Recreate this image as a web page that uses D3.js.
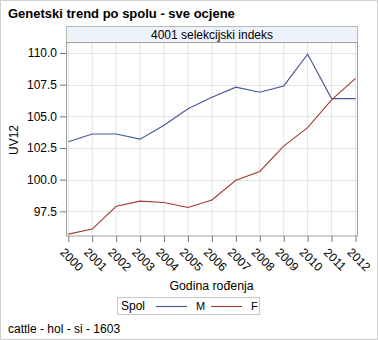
<!DOCTYPE html>
<html><head><meta charset="utf-8">
<script src="https://cdn.jsdelivr.net/npm/d3@7"></script>
<style>body{margin:0;background:#fff}svg{display:block;font-family:"Liberation Sans",Arial,sans-serif}</style>
</head><body>
<svg id="c" width="378" height="340"></svg>
<script>
const years = [2000,2001,2002,2003,2004,2005,2006,2007,2008,2009,2010,2011,2012];
const valuesM = [103.0,103.6,103.6,103.2,104.3,105.6,106.5,107.3,106.9,107.4,109.9,106.4,106.4];
const valuesF = [95.7,96.1,97.9,98.3,98.2,97.8,98.4,99.95,100.65,102.65,104.1,106.3,108.0];
const yTicks = [97.5,100.0,102.5,105.0,107.5,110.0];
const seriesNames = ["M","F"];
const colors = ["#445694","#A23A2E"];

const svg = d3.select("#c");
const L = 66, R = 358, T = 43, B = 236;
svg.append("rect").attr("x",0.5).attr("y",0.5).attr("width",377).attr("height",339)
  .attr("fill","#fff").attr("stroke","#cfcfcf");

svg.append("text").attr("x",8).attr("y",18).attr("font-weight","bold").attr("font-size",13)
  .attr("fill","#000").text("Genetski trend po spolu - sve ocjene");

const x = d3.scaleLinear().domain([2000,2012]).range([68.3,355.5]);
const y = d3.scaleLinear().domain([95.55,110.79]).range([B,T]);

// header
svg.append("rect").attr("x",L+0.5).attr("y",26.5).attr("width",R-L-1).attr("height",16)
  .attr("fill","#eef2fb").attr("stroke","#b8b8b8");
svg.append("text").attr("x",(L+R)/2).attr("y",39).attr("text-anchor","middle")
  .attr("font-size",12).text("4001 selekcijski indeks");

// grid
const g = svg.append("g");
g.selectAll("line.vx").data(years).join("line")
  .attr("x1",d=>x(d)).attr("x2",d=>x(d)).attr("y1",T).attr("y2",B)
  .attr("stroke","#e3e3e3");
g.selectAll("line.hy").data(yTicks).join("line")
  .attr("x1",L).attr("x2",R).attr("y1",d=>Math.round(y(d))+0.5).attr("y2",d=>Math.round(y(d))+0.5)
  .attr("stroke","#e3e3e3");

// lines
const line = d3.line().x((d,i)=>x(years[i])).y(d=>y(d));
[valuesM, valuesF].forEach((vals,k)=>{
  svg.append("path").datum(vals).attr("d",line).attr("fill","none")
    .attr("stroke",colors[k]).attr("stroke-width",1.1);
});

// frame
svg.append("rect").attr("x",L+0.5).attr("y",T-0.5).attr("width",R-L-1).attr("height",B-T+0.5)
  .attr("fill","none").attr("stroke","#a0a0a0");

// y axis
const ya = svg.append("g").attr("transform",`translate(${L},0)`)
  .call(d3.axisLeft(y).tickValues(yTicks).tickFormat(d3.format(".1f")).tickSize(6).tickPadding(3));
ya.select(".domain").remove();
ya.selectAll(".tick line").attr("stroke","#777");
ya.selectAll(".tick text").attr("font-size",12).attr("fill","#000").attr("font-family",null);

// x axis
const xa = svg.append("g").attr("transform",`translate(0,${B})`)
  .call(d3.axisBottom(x).tickValues(years).tickFormat(d3.format("d")).tickSize(6));
xa.select(".domain").remove();
xa.selectAll(".tick line").attr("stroke","#777");
xa.selectAll(".tick text").attr("font-size",12).attr("fill","#000").attr("font-family",null)
  .attr("text-anchor","middle").attr("y",0).attr("dy","0.35em")
  .attr("transform","translate(3,23.5) rotate(45)");

svg.append("text").attr("transform","translate(18,140) rotate(-90)").attr("text-anchor","middle")
  .attr("font-size",12).text("UV12");
svg.append("text").attr("x",211.5).attr("y",290).attr("text-anchor","middle")
  .attr("font-size",12.3).text("Godina rođenja");

// legend
const lg = svg.append("g");
lg.append("rect").attr("x",117.5).attr("y",297.5).attr("width",142).attr("height",17)
  .attr("fill","#fff").attr("stroke","#c8c8c8");
lg.append("text").attr("x",121).attr("y",310).attr("font-size",12).text("Spol");
const lx = [156,211];
seriesNames.forEach((n,k)=>{
  lg.append("line").attr("x1",lx[k]).attr("x2",lx[k]+31).attr("y1",306.5).attr("y2",306.5)
    .attr("stroke",colors[k]).attr("stroke-width",1.1);
  lg.append("text").attr("x",lx[k]+40).attr("y",310).attr("font-size",11).text(n);
});

svg.append("text").attr("x",8).attr("y",333).attr("font-size",12).text("cattle - hol - si - 1603");
</script>
</body></html>
